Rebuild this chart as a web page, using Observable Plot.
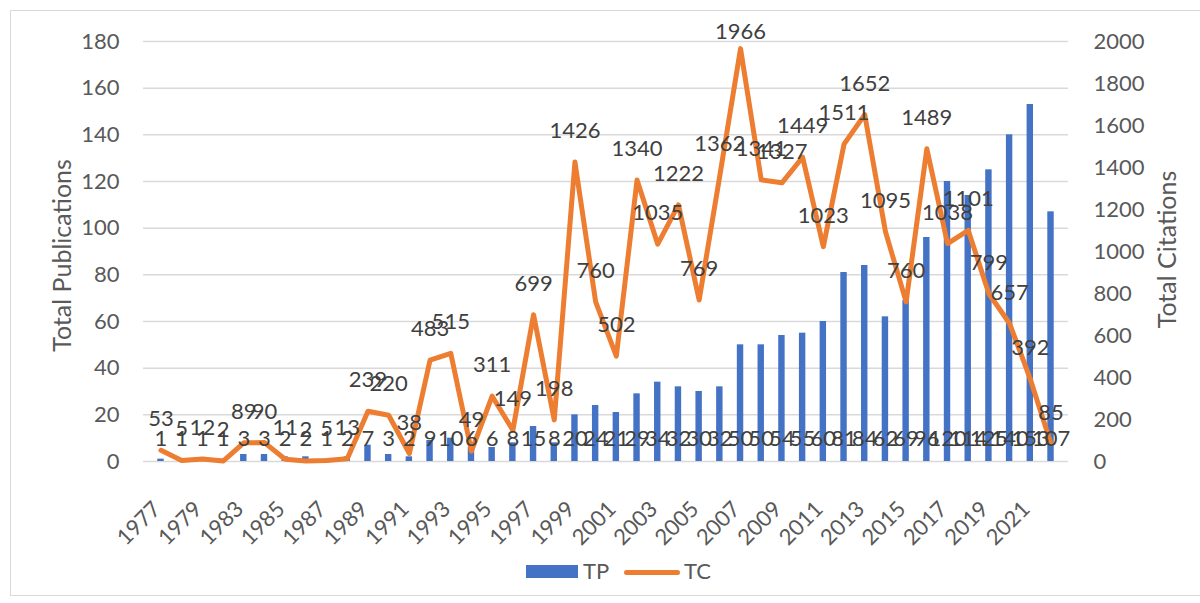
<!DOCTYPE html>
<html>
<head>
<meta charset="utf-8">
<script src="https://cdn.jsdelivr.net/npm/d3@7"></script>
<script src="https://cdn.jsdelivr.net/npm/@observablehq/plot@0.6"></script>
<style>
  html, body { margin: 0; padding: 0; background: #fff; }
  #wrap { position: relative; width: 1200px; height: 603px; overflow: hidden; font-family: Lato, "Open Sans", sans-serif; }
  #frame { position: absolute; left: 10px; top: 10px; width: 1195px; height: 586px; border: 1px solid #d9d9d9; box-sizing: border-box; }
  #chart { position: absolute; left: 0; top: 0; }
  .leg { position: absolute; font-size: 22px; color: #595959; line-height: 22px; }
</style>
</head>
<body>
<div id="wrap">
  <div id="frame"></div>
  <div id="chart"></div>
  <div class="leg" style="left:526px;top:565px;width:52px;height:13px;background:#4472C4;"></div>
  <div class="leg" style="left:583px;top:560px;">TP</div>
  <div class="leg" style="left:624px;top:570px;width:56px;height:5px;background:#ED7D31;border-radius:3px;"></div>
  <div class="leg" style="left:684px;top:560px;">TC</div>
</div>
<script>
const years = ["1977","1978","1979","1981","1983","1984","1985","1986","1987","1988","1989","1990","1991","1992","1993","1994","1995","1996","1997","1998","1999","2000","2001","2002","2003","2004","2005","2006","2007","2008","2009","2010","2011","2012","2013","2014","2015","2016","2017","2018","2019","2020","2021","2022"];
const tp = [1,1,1,1,3,3,2,2,1,2,7,3,2,9,10,6,6,8,15,8,20,24,21,29,34,32,30,32,50,50,54,55,60,81,84,62,69,96,120,114,125,140,153,107];
const tc = [53,5,12,2,89,90,11,2,5,13,239,220,38,483,515,49,311,149,699,198,1426,760,502,1340,1035,1222,769,1362,1966,1341,1327,1449,1023,1511,1652,1095,760,1489,1038,1101,799,657,392,85];
const tpTicks = [0,20,40,60,80,100,120,140,160,180];
const tcTicks = [0,200,400,600,800,1000,1200,1400,1600,1800,2000];

const ratio = 180 / 2000;
const pxPerUnit = 420 / 180;
const data = years.map((y, i) => ({year: y, tp: tp[i], tc: tc[i], tcY: tc[i] * ratio, lblY: Math.min(tc[i] * ratio + 13.3, 184)}));
const shownYears = years.filter((d, i) => i % 2 === 0);

const plot = Plot.plot({
  width: 1200,
  height: 600,
  marginLeft: 143,
  marginRight: 132,
  marginTop: 41,
  marginBottom: 139,
  style: {fontFamily: "Lato, 'Open Sans', sans-serif", fontSize: "22px", color: "#595959", background: "transparent"},
  x: {domain: years, type: "band", padding: 0.69, label: null, axis: null},
  y: {domain: [0, 180], label: null},
  marks: [
    Plot.gridY(tpTicks, {stroke: "#d9d9d9", strokeOpacity: 1, strokeWidth: 1.5}),
    Plot.axisY(tpTicks, {anchor: "left", tickSize: 0, tickPadding: 24, fill: "#595959", fontSize: 22, label: null}),
    Plot.axisY(tcTicks.map(d => d * ratio), {anchor: "right", tickSize: 0, tickPadding: 25, textAnchor: "start", fill: "#595959", fontSize: 22, tickFormat: d => String(Math.round(d / ratio)), label: null}),
    Plot.text(shownYears, {x: d => d, y: -44 / pxPerUnit, text: d => d, rotate: -45, textAnchor: "end", lineAnchor: "middle", dx: -4, fill: "#595959", fontSize: 22, clip: false}),
    Plot.barY(data, {x: "year", y: "tp", fill: "#4472C4"}),
    Plot.line(data, {x: "year", y: "tcY", stroke: "#ED7D31", strokeWidth: 5, strokeLinejoin: "round", strokeLinecap: "round"}),
    Plot.text(data, {x: "year", y: 0, text: d => String(d.tp), dy: -23, fill: "#404040", fontSize: 22}),
    Plot.text(data, {x: "year", y: "lblY", text: d => String(d.tc), fill: "#404040", fontSize: 22}),
    Plot.text(["Total Publications"], {frameAnchor: "left", textAnchor: "middle", dx: -81, dy: 4, rotate: -90, fill: "#595959", fontSize: 25}),
    Plot.text(["Total Citations"], {frameAnchor: "right", textAnchor: "middle", dx: 99, dy: -2, rotate: -90, fill: "#595959", fontSize: 25})
  ]
});
document.getElementById("chart").appendChild(plot);
</script>
</body>
</html>
